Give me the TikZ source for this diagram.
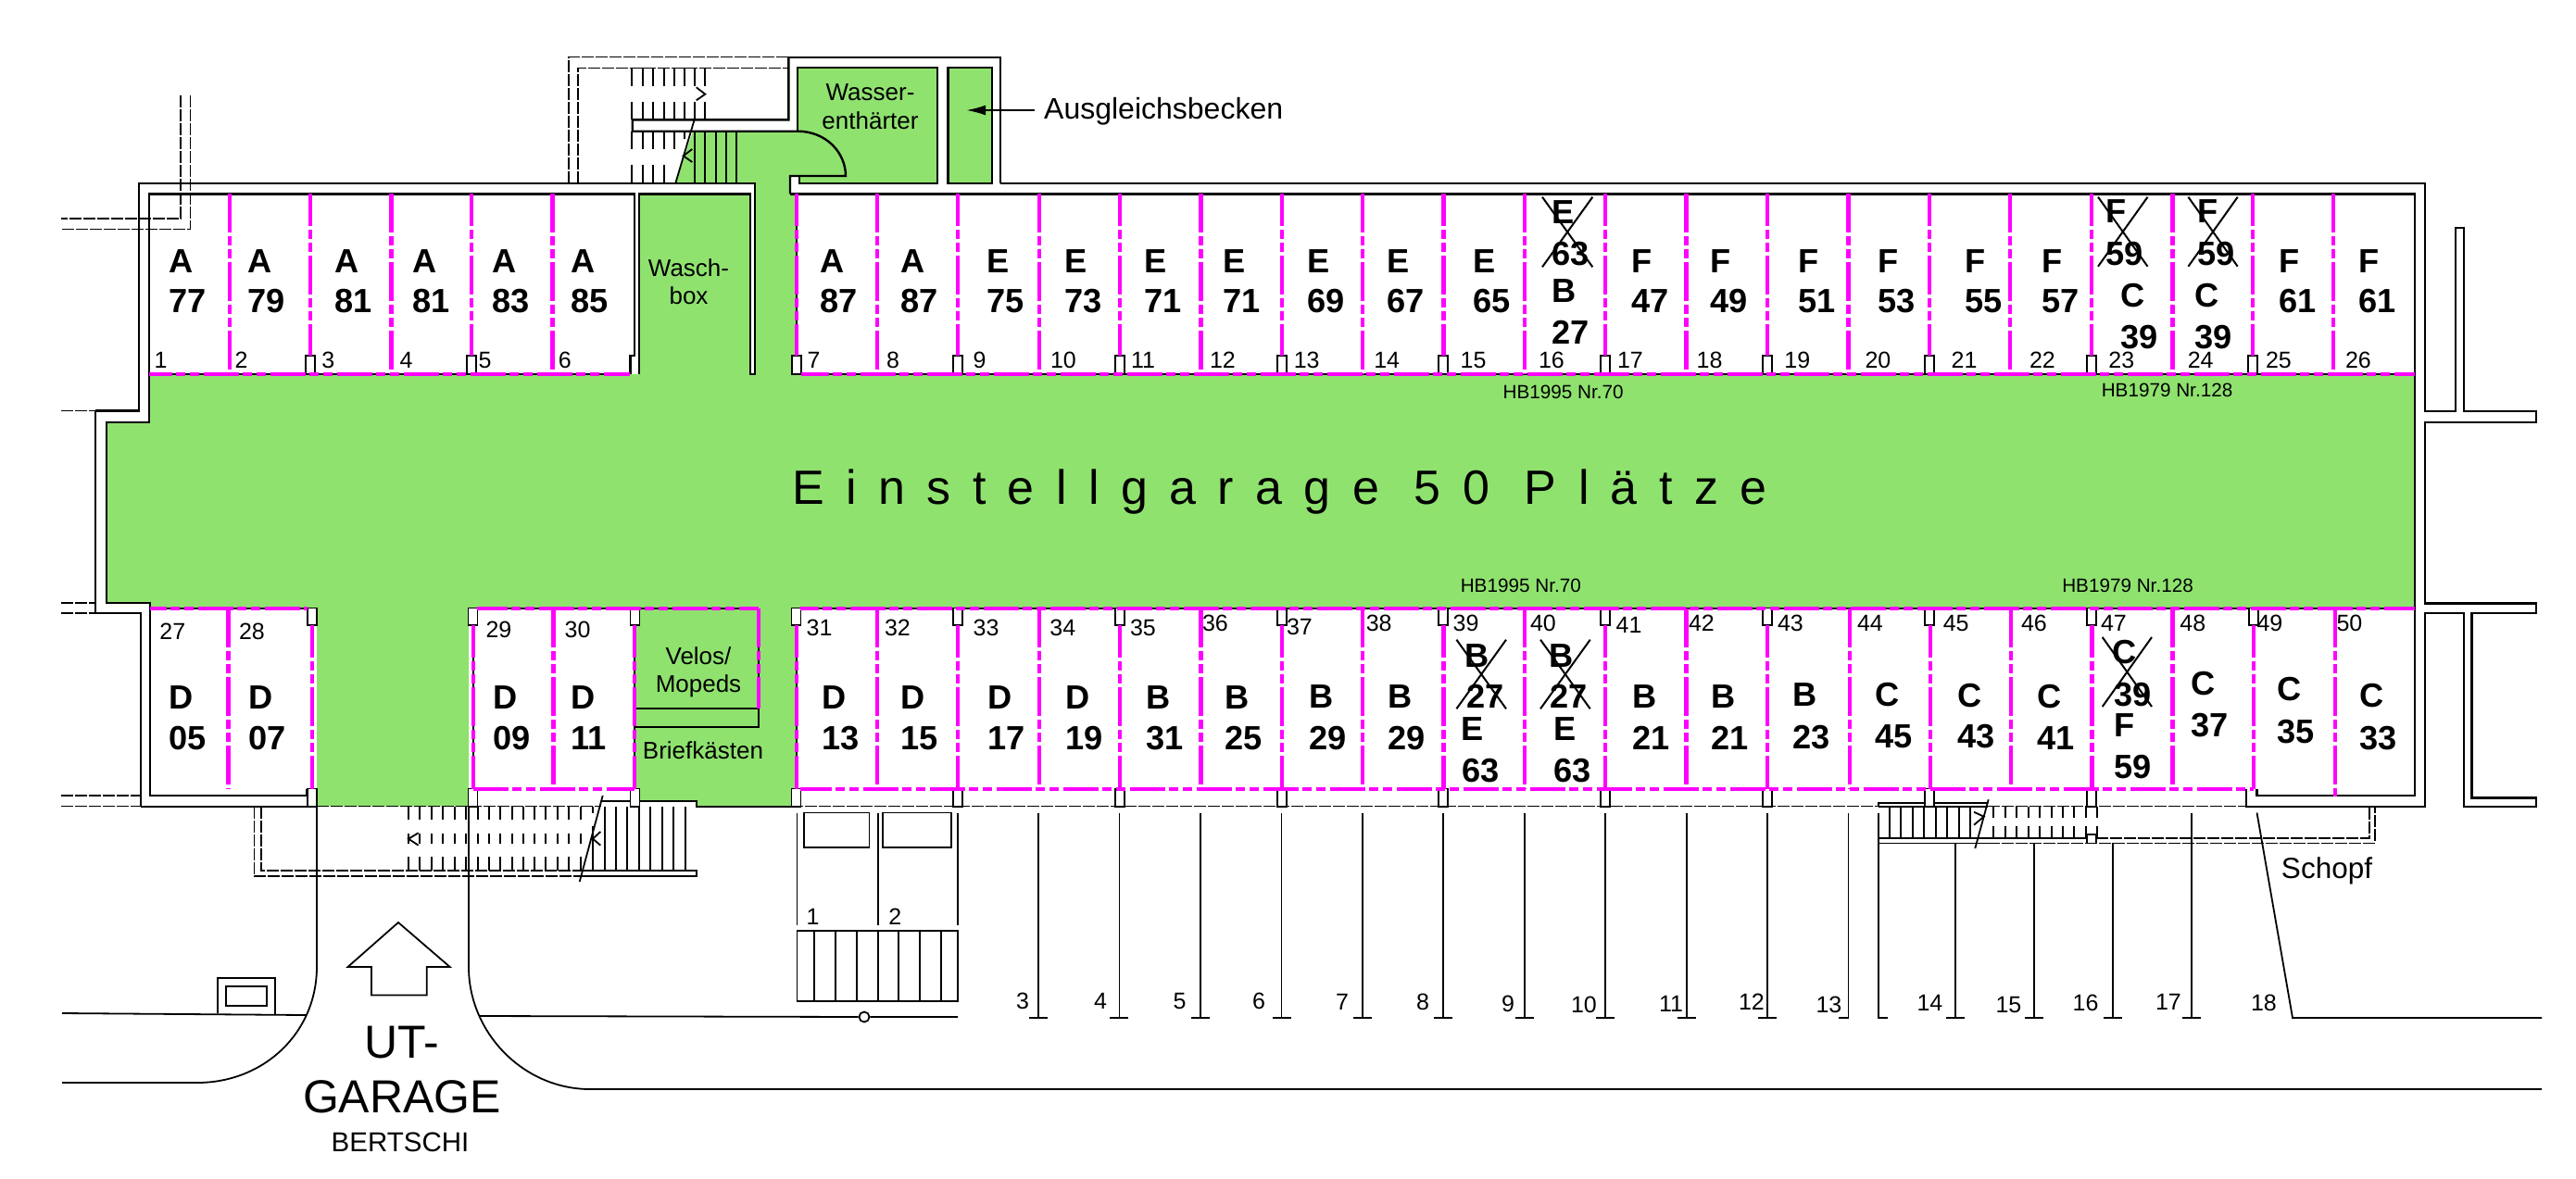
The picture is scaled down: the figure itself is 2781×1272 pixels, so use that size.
\documentclass[tikz,border=0pt]{standalone}
\usepackage{fontspec}
\setmainfont{Liberation Sans}
\newfontfamily\spacedfont[LetterSpace=45]{Liberation Sans}
\usetikzlibrary{arrows.meta}
\definecolor{garagegreen}{RGB}{144,226,111}
\definecolor{spotmagenta}{RGB}{255,0,255}
\tikzset{
  wall/.style={line width=2.4pt,black},
  thinl/.style={line width=1.8pt,black},
  dashl/.style={line width=1.5pt,black,dash pattern=on 13pt off 2pt},
  tread/.style={line width=1.7pt,black},
  crossl/.style={line width=2pt,black},
  stubbox/.style={line width=1.6pt,black,fill=white},
  magh/.style={line width=4.2pt,spotmagenta,dash pattern=on 38pt off 4pt on 10pt off 5pt on 10pt off 5pt},
  magone/.style={line width=4.2pt,spotmagenta,dash pattern=on 42pt off 4pt on 10pt off 4pt on 10pt off 4pt},
  magtwo/.style={line width=4.2pt,spotmagenta,dash pattern=on 42pt off 4pt on 10pt off 4pt on 10pt off 4pt,dash phase=7pt},
  biglabel/.style={anchor=base west,inner sep=0pt,outer sep=0pt,font=\fontsize{36.2}{36}\selectfont\bfseries},
  smalln/.style={anchor=base west,inner sep=0pt,outer sep=0pt,font=\fontsize{25}{25}\selectfont},
  midtext/.style={anchor=base,inner sep=0pt,outer sep=0pt,font=\fontsize{26}{26}\selectfont},
  hbtext/.style={anchor=mid,inner sep=0pt,outer sep=0pt,font=\fontsize{20.7}{21}\selectfont},
}
\newcommand{\bigt}[4]{\node[biglabel] (#1) at (#2,{#3+12.9}) {#4};}
\begin{document}
\begin{tikzpicture}[x=1pt,y=-1pt]
\useasboundingbox (0,0) rectangle (2781,1272);
% green fills
\fill[garagegreen] (115,456) -- (161,456) -- (161,404) -- (690,404) -- (690,209.3) -- (810,209.3) -- (810,404) -- (815,404) -- (815,197.7) -- (729.3,197.7) -- (748,141.7) -- (861,141.7) -- (861,190) -- (853,190) -- (853,209.3) -- (860,209.3) -- (860,384) -- (855.5,384) -- (855.5,404) -- (2607,404) -- (2607,656.6) -- (860,656.6) -- (860,851.6) -- (854,851.6) -- (854,870.7) -- (751.7,870.7) -- (751.7,865) -- (690,865) -- (690,851.6) -- (685,851.6) -- (685,656.6) -- (506,656.6) -- (506,870.7) -- (342,870.7) -- (342,656.6) -- (162,656.6) -- (162,651) -- (115,651) -- cycle;
\fill[garagegreen] (861,72.7) -- (1012,72.7) -- (1012,197.7) -- (863,197.7) -- (863,190) -- (861,190) -- cycle;
\fill[garagegreen] (1023.6,72.7) rectangle (1070.7,197.7);
% stair treads, top
\foreach \x in {682.3,694,705.3,716.7,728,738.7,750,761.3}{
  \draw[tread] (\x,73) -- (\x,93) (\x,110) -- (\x,129.3);}
\foreach \x in {682.3,694,705.3,716.7,728}{\draw[tread] (\x,141.7) -- (\x,161);}
\draw[tread] (738.7,141.7) -- (738.7,150);
\foreach \x in {682.3,694,705.3,716.7}{\draw[tread] (\x,177.7) -- (\x,197);}
\foreach \x in {750,761.3,772.7,784,795.3}{\draw[tread] (\x,141.7) -- (\x,197.7);}
\draw[thinl] (750,128) -- (729.3,197.7);
\draw[thinl] (751.7,94.3) -- (761.3,101.7) -- (751.7,108.3);
\draw[thinl] (747.3,161) -- (737.7,168.3) -- (747.3,175);
% top annex walls
\draw[dashl] (613.8,197.7) -- (613.8,61.7) -- (851.4,61.7);
\draw[dashl] (624,197.7) -- (624,73.3) -- (851.4,73.3);
\draw[wall] (851.4,61.7) -- (1080,61.7) -- (1080,197.7);
\draw[wall] (851.4,61.7) -- (851.4,129.3) -- (682.7,129.3) -- (682.7,141.7) -- (861,141.7) .. controls (892,141.7) and (913,165) .. (913,190) -- (853,190) -- (853,209.3);
\draw[wall] (861,141.7) -- (861,72.7) -- (1012,72.7) -- (1012,197.7) -- (863,197.7) -- (863,190);
\draw[wall] (1023.6,197.7) -- (1023.6,72.7) -- (1070.7,72.7) -- (1070.7,197.7) -- cycle;
% upper left dashed ducts
\draw[dashl] (195,103.3) -- (195,236) -- (66,236);
\draw[dashl] (205.5,103.3) -- (205.5,247.3) -- (66,247.3);
% main walls
\draw[dashl] (66,443.3) -- (103,443.3);
\draw[wall] (103,443.3) -- (150,443.3) -- (150,197.7) -- (815,197.7) -- (815,404) -- (810,404) -- (810,209.3) -- (690,209.3) -- (690,404);
\draw[wall] (161,404) -- (161,209.3) -- (685,209.3) -- (685,384) -- (680.4,384) -- (680.4,404);
\draw[wall] (161,404) -- (161,456) -- (115,456) -- (115,651) -- (162,651) -- (162,859) -- (331.6,859) -- (331.6,851.6);
\draw[wall] (103,443.3) -- (103,662) -- (152,662) -- (152,870.7);
\draw[dashl] (66,651) -- (103,651) (66,662) -- (103,662) (66,859) -- (152,859) (66,870.7) -- (152,870.7);
\draw[wall] (152,870.7) -- (342,870.7);
\draw[wall] (1080,197.7) -- (2618,197.7) -- (2618,444) -- (2651,444) -- (2651,246) -- (2660,246) -- (2660,444) -- (2738,444) -- (2738,455.7) -- (2618,455.7) -- (2618,651.4) -- (2738,651.4) -- (2738,662) -- (2668.5,662) -- (2668.5,861.4) -- (2738,861.4) -- (2738,871) -- (2660,871) -- (2660,662) -- (2618,662) -- (2618,871) -- (2425,871) -- (2425,851.6);
\draw[wall] (853,209.3) -- (2607,209.3) -- (2607,859) -- (2436.5,859) -- (2436.5,851.6);
\draw[thinl] (860,209.3) -- (860,384) (685,675) -- (685,851.6) (510.7,675) -- (510.7,851.6) (860,675) -- (860,851.6) (818.6,656.6) -- (818.6,784.6) -- (685,784.6) (685,765) -- (818.6,765);
\draw[thinl] (161,404) -- (680,404) (865,404) -- (2607,404) (162,656.6) -- (331.6,656.6) (515,656.6) -- (818.6,656.6) (864,656.6) -- (2607,656.6);
% bottom line
\draw[dashl] (342,870.7) -- (649,870.7) (854,870.7) -- (2028,870.7) (2146,870.7) -- (2425,870.7);
\draw[wall] (649,865) -- (680,865);
\draw[thinl] (690,865) -- (751.7,865) -- (751.7,870.7) -- (854,870.7);
\draw[thinl] (2028,870.7) -- (2028,866.7) -- (2146,866.7) (2028,870.7) -- (2146,870.7);
% left stair
\foreach \x in {441,453.3,466,478.3,490.7,503.3,515.7,528,540.3,552.7,565,577.3,589.3,601.7,614}{
  \draw[tread] (\x,870.7) -- (\x,885) (\x,900) -- (\x,910.7) (\x,925) -- (\x,940);}
\draw[tread] (627.3,900) -- (627.3,910.7) (627.3,925) -- (627.3,940) (627.3,870.7) -- (627.3,885);
\draw[tread] (640,870.7) -- (640,878) (640,892) -- (640,940);
\foreach \x in {652.7,665,677.3,690,702.3,715,727.3,740}{\draw[tread] (\x,870.7) -- (\x,940);}
\draw[dashl] (274.5,870.7) -- (274.5,946) -- (626.5,946);
\draw[dashl] (282,870.7) -- (282,940) -- (626.5,940);
\draw[thinl] (626.5,940) -- (751.7,940) -- (751.7,946) -- (626.5,946);
\draw[thinl] (650.7,859) -- (625.7,952);
\draw[thinl] (451.7,899.3) -- (441,905.7) -- (451.7,912.7);
\draw[thinl] (648.3,898) -- (640,905.7) -- (648.3,912.7);
% right stair
\foreach \x in {2040,2052.3,2065,2077.3,2090,2102.3,2115,2127.3}{\draw[tread] (\x,870.7) -- (\x,905);}
\foreach \x in {2152,2165,2177.3,2190,2202.3,2215,2226.7,2239.3,2251.7,2264.3}{
  \draw[tread] (\x,870.7) -- (\x,883.3) (\x,891.7) -- (\x,905);}
\draw[thinl] (2028,905) -- (2146,905) (2028,910.4) -- (2146,910.4) (2146,905) -- (2253,905);
\draw[dashl] (2263,905) -- (2558,905) -- (2558,871);
\draw[dashl] (2146,910.4) -- (2564,910.4) -- (2564,871);
\draw[stubbox] (2253,901) rectangle (2263,910.4);
\draw[thinl] (2146.7,863.3) -- (2132.3,916);
\draw[thinl] (2131,876.7) -- (2141.7,881.7) -- (2131,890.7);
% white stubs
\foreach \x in {335,509,860,1034,1209,1384,1558,1733,1908,2083,2258,2432}{\draw[stubbox] (\x-5,384) rectangle (\x+5,404);}
\foreach \x in {336.7,510.3,685.5,859.3,1034,1209,1384,1558,1733,1908,2083,2258,2433}{\draw[stubbox] (\x-5,656.6) rectangle (\x+5,675);}
\foreach \x in {336.7,510.3,685.5,859.3,1034,1209,1384,1558,1733,1908,2083,2258}{\draw[stubbox] (\x-5,851.6) rectangle (\x+5,870.7);}
% magenta vertical lines, upper row
\foreach \x in {248,422.5,596.5,947.3,1121.7,1296.4,1471.1,1645.8,1820.5,1995.5,2170,2345.5,2519}{\draw[magone] (\x,209) -- (\x,404);}
\foreach \x in {335,509,860,1034,1209,1383.7,1558.4,1733.1,1907.8,2082.6,2258,2432}{\draw[magtwo] (\x,209) -- (\x,384);}
% magenta vertical lines, lower row
\foreach \x in {246.4,597.5,947.3,1121.7,1296.4,1471.1,1645.8,1820.5,1996.6,2171,2345.5}{\draw[magone] (\x,657) -- (\x,851.6);}
\draw[magone] (2521,657) -- (2521,859.6);
\foreach \x in {336.7,510.7,685,860,1034,1209,1383.7,1558.4,1733.1,1907.8,2083.7,2258.4,2433}{\draw[magtwo] (\x,675) -- (\x,851.6);}
\draw[magone] (818.6,656.6) -- (818.6,765);
% magenta horizontal lines
\draw[magh,dash phase=13pt] (161,404) -- (680,404);
\draw[magh,dash phase=8pt] (865,404) -- (2607,404);
\draw[magh,dash phase=20pt] (162,656.6) -- (331.6,656.6);
\draw[magh,dash phase=5pt] (515,656.6) -- (818.6,656.6);
\draw[magh,dash phase=18pt] (864,656.6) -- (2607,656.6);
\draw[magh] (510.7,851.6) -- (685,851.6);
\draw[magh,dash phase=4pt] (864,851.6) -- (2433,851.6);
% roads
\draw[thinl] (342,870.7) -- (342,1044) .. controls (342,1115) and (285,1169) .. (213,1169) -- (67,1169);
\draw[thinl] (506,870.7) -- (506,1044) .. controls (506,1115) and (565,1176) .. (637,1176) -- (2744,1176);
\draw[thinl] (67,1094) -- (330.6,1096);
\draw[thinl] (234.7,1094) -- (234.7,1055.8) -- (297,1055.8) -- (297,1095);
\draw[thinl] (244,1065) rectangle (288,1085.7);
\node[circle,draw=black,line width=1.8pt,fill=white,minimum size=11pt,inner sep=0pt] (gate) at (933,1098) {};
\coordinate (roadstart) at (517,1097);
\coordinate (roadend) at (1034,1098);
\draw[thinl] (roadstart) -- (gate) -- (roadend);
% entrance arrow
\draw[thinl] (430,996) -- (485.7,1044) -- (460.7,1044) -- (460.7,1074.5) -- (401,1074.5) -- (401,1044) -- (375.5,1044) -- cycle;
% outdoor spots 1,2
\foreach \x in {860.4,947.7,1034}{\draw[thinl] (\x,877.5) -- (\x,999);}
\draw[thinl] (868,877.5) rectangle (938.5,915);
\draw[thinl] (952.8,877.5) rectangle (1026.7,915);
\draw[thinl] (860.4,1005) rectangle (1034,1081);
\foreach \x in {878.8,901.7,924.7,947.7,970,993,1016}{\draw[thinl] (\x,1005) -- (\x,1081);}
% posts
\foreach \x in {1121,1208.4,1296,1383.5,1471,1558,1646,1733,1821,1908}{
  \draw[thinl] (\x,877.5) -- (\x,1099) (\x-10,1099) -- (\x+10,1099);}
\draw[thinl] (1995.5,877.5) -- (1995.5,1099) -- (1985,1099);
\draw[thinl] (2028,877.5) -- (2028,1099) -- (2038,1099);
\foreach \x in {2111,2196,2281}{\draw[thinl] (\x,910.4) -- (\x,1099) (\x-10,1099) -- (\x+10,1099);}
\draw[thinl] (2365.7,877.5) -- (2365.7,1099) (2355.7,1099) -- (2375.7,1099);
\draw[thinl] (2436.5,877.5) -- (2475,1099) -- (2744,1099);
% crosses
\foreach \a/\b/\c/\d in {1665/1719.3/212.7/288.3,2265/2318.5/212.7/287.7,2362.4/2415.7/212.7/287.7,1572.4/1626/690.7/765.3,1663/1716.7/690.7/765.3,2269.7/2323/688/763}{
  \draw[crossl] (\a,\c) -- (\b,\d) (\b,\c) -- (\a,\d);}
% big labels, upper row
\foreach \n/\x/\l/\m in {a/182.5/A/77,b/267.5/A/79,c/361.6/A/81,d/445.5/A/81,e/531/A/83,f/616.5/A/85,g/885/A/87,h/972/A/87,i/1065/E/75,j/1149/E/73,k/1235/E/71,l/1320/E/71,m/1411/E/69,n/1497.3/E/67,o/1590.7/E/65,p/1761/F/47,q/1846/F/49,r/1941.7/F/51,s/2027/F/53,t/2121/F/55,u/2204.5/F/57,v/2460/F/61,w/2546/F/61}{
  \bigt{tl\n}{\x}{281.5}{\l}
  \bigt{tn\n}{\x}{325}{\m}
}
\bigt{x1}{1675}{228.3}{E}\bigt{x2}{1675.7}{273.3}{63}\bigt{x3}{1675}{314}{B}\bigt{x4}{1675}{358.3}{27}
\bigt{x5}{2273.6}{228}{F}\bigt{x6}{2273.6}{274}{59}\bigt{x7}{2289.3}{318.3}{C}\bigt{x8}{2289.3}{363.3}{39}
\bigt{x9}{2372}{228}{F}\bigt{x10}{2372}{274}{59}\bigt{x11}{2369}{318.3}{C}\bigt{x12}{2369}{363.3}{39}
% big labels, lower row
\foreach \n/\x/\l/\m/\ya/\yb in {a/182.7/D/05/753/796.7,b/268.4/D/07/753/796.7,c/532/D/09/753/796.7,d/616/D/11/753/796.7,e/887/D/13/752.5/796.4,f/972.7/D/15/752.5/796.4,g/1066.5/D/17/752.5/796.4,h/1150/D/19/752.5/796.4,i/1237/B/31/752.5/796.4,j/1322/B/25/752.5/796.4,k/1413/B/29/752/796.7,l/1498.5/B/29/752/796.7,m/1762.6/B/21/752/796.7,n/1847.6/B/21/752/796.7,o/1935/B/23/750/795.4,p/2024.7/C/45/750/795,q/2113.5/C/43/750.7/795,r/2199.4/C/41/751.8/797,s/2365.7/C/37/737.5/783,t/2458/C/35/744/790,u/2547.8/C/33/750.7/797}{
  \bigt{bl\n}{\x}{\ya}{\l}
  \bigt{bn\n}{\x}{\yb}{\m}
}
\bigt{y1}{1581}{707.3}{B}\bigt{y2}{1583}{751.7}{27}\bigt{y3}{1577}{786.7}{E}\bigt{y4}{1578}{831.7}{63}
\bigt{y5}{1672}{707.3}{B}\bigt{y6}{1673}{751.7}{27}\bigt{y7}{1677}{786.7}{E}\bigt{y8}{1677}{831.7}{63}
\bigt{y9}{2280}{703.6}{C}\bigt{y10}{2282}{750}{39}\bigt{y11}{2282}{783}{F}\bigt{y12}{2282}{827.5}{59}
% small numbers
\foreach \n/\x/\y in {1/166.5/389,2/253.7/389,3/347.3/389,4/431.7/389,5/516.7/389,6/602.8/389,7/871.5/389,8/957/389,9/1050.6/389,10/1134/389,11/1221/389,12/1306/389,13/1396.8/389,14/1483.3/389,15/1576.7/389,16/1661/389,17/1746/389,18/1831.7/389,19/1926.4/389,20/2013.5/389,21/2106.7/389,22/2191/389,23/2276.4/389,24/2361.8/389,25/2446/389,26/2532/389,27/172.4/682,28/258/682,29/524.5/680,30/609.7/680,31/870.6/678,32/955/678,33/1050.7/678,34/1133.4/678,35/1220/678,36/1298/673,37/1389/676.5,38/1474.8/673,39/1568.6/673,40/1652/673,41/1744.6/675,42/1823/673,43/1919/673,44/2005/673,45/2097.8/673,46/2182/673,47/2268/673,48/2353.4/673,49/2436.5/673,50/2522.5/673}{
  \node[smalln] (sp\n) at (\x,{\y+8.9}) {\n};
}
\foreach \n/\x/\y in {1/870.6/990,2/959.4/990,3/1097/1081,4/1181/1081,5/1266.5/1081,6/1352/1081,7/1442/1082,8/1529/1082,9/1621/1084,10/1696/1085,11/1791/1084,12/1877/1082,13/1960.5/1084.6,14/2069.5/1083,15/2154.5/1084.6,16/2237.7/1083,17/2327/1082,18/2430/1083}{
  \node[smalln] (pp\n) at (\x,{\y+8.9}) {\n};
}
% texts
\node[midtext] (wa) at (939.5,108) {Wasser-};
\node[midtext] (wb) at (939.5,139) {enthärter};
\node[midtext] (wc) at (743.5,298) {Wasch-};
\node[midtext] (wd) at (743.5,328) {box};
\node[midtext] (ve) at (754,717) {Velos/};
\node[midtext] (mo) at (754,747) {Mopeds};
\node[midtext] (br) at (759,819.6) {Briefkästen};
\node[anchor=base west,inner sep=0pt,font=\fontsize{32}{32}\selectfont] (ausg) at (1127,128) {Ausgleichsbecken};
\coordinate (ausgtip) at (1043,119);
\coordinate (ausgtail) at (1116.7,119);
\draw[line width=2.2pt,-{Latex[length=21pt,width=11pt]}] (ausgtail) -- (ausgtip);
\node[anchor=base,inner sep=0pt,font=\fontsize{31.5}{32}\selectfont] (sch) at (2512,948) {Schopf};
\node[hbtext] (hb1) at (1687.6,428) {HB1995 Nr.70};
\node[hbtext] (hb2) at (2339.5,426) {HB1979 Nr.128};
\node[hbtext] (hb3) at (1641.8,636.7) {HB1995 Nr.70};
\node[hbtext] (hb4) at (2297,637) {HB1979 Nr.128};
\node[anchor=base,inner sep=0pt,font=\fontsize{50}{50}\selectfont] (ut) at (433.6,1142) {UT-};
\node[anchor=base,inner sep=0pt,font=\fontsize{50}{50}\selectfont] (ga) at (434,1201) {GARAGE};
\node[anchor=base,inner sep=0pt,font=\fontsize{29.5}{30}\selectfont] (be) at (432,1243.5) {BERTSCHI};
\node[inner sep=0pt,font=\spacedfont\fontsize{52}{52}\selectfont] (title) at (1381.5,531.5) {Einstellgarage 50 Plätze};
\end{tikzpicture}
\end{document}
